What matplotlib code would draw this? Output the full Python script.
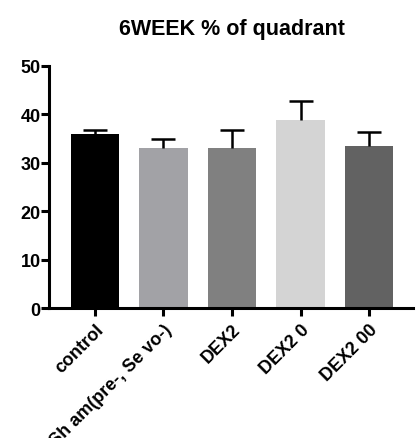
import numpy as np
import matplotlib.pyplot as plt

plt.rcParams['font.family'] = ['Liberation Sans', 'DejaVu Sans']

groups = ["control", "Sh am(pre-, Se vo-)", "DEX2", "DEX2 0", "DEX2 00"]
means = [35.9, 33.0, 33.05, 38.8, 33.4]
sem = [0.9, 2.0, 3.65, 3.9, 2.95]
colors = ["#000000", "#a2a2a6", "#808080", "#d4d4d4", "#626262"]

fig = plt.figure(figsize=(4.16, 4.39), dpi=100)
ax = fig.add_axes([49/416, 1 - 309.3/439, (413 - 49)/416, (309.3 - 66.8)/439])

x = np.arange(len(groups))
w = 0.71
ax.bar(x, means, width=w, color=colors, zorder=2)

# upper error bars only
tops = np.array(means) + np.array(sem)
ax.vlines(x, means, tops, color="black", linewidth=1.8, zorder=3)
ax.hlines(tops, x - 0.175, x + 0.175, color="black", linewidth=1.8, zorder=3)

ax.set_xlim(-0.67, 4.64)
ax.set_ylim(0, 50)
ax.set_yticks([0, 10, 20, 30, 40, 50])
ax.set_xticks(x)
ax.set_xticklabels(groups, rotation=45, ha="right", rotation_mode="anchor",
                   fontsize=13, fontweight="bold")
for lab in ax.get_yticklabels():
    lab.set_fontweight("bold")
    lab.set_fontsize(13)

for s in ["top", "right"]:
    ax.spines[s].set_visible(False)
for s in ["left", "bottom"]:
    ax.spines[s].set_linewidth(2.2)
ax.tick_params(axis="both", width=2.2, length=6, pad=0)
ax.tick_params(axis="x", pad=3)

fig.text(232/416, 1 - 30/439, "6WEEK % of quadrant", ha="center", va="center",
         fontsize=15.5, fontweight="bold")

fig.savefig("out.png", dpi=100)
